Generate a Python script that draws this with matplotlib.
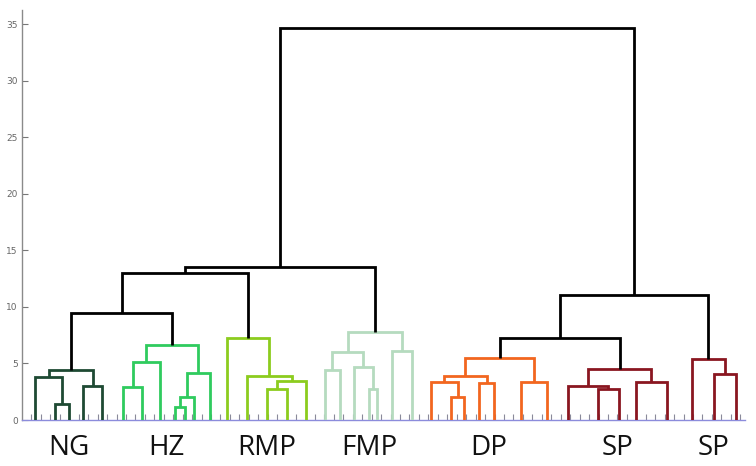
import matplotlib
matplotlib.use("Agg")
import matplotlib.pyplot as plt
from matplotlib.transforms import blended_transform_factory

# ---------------- data ----------------
# leaf positions along the x axis (leaf-tick units) and the group of each leaf
leaf_pos = [1.4, 3.5, 5.0, 6.5, 8.5,
            10.7, 12.7, 14.6, 16.2, 17.2, 18.2, 19.9,
            21.7, 23.8, 25.9, 28.0, 30.1,
            32.1, 33.6, 35.1, 36.7, 37.6, 39.2, 41.3,
            43.3, 45.4, 46.8, 48.4, 49.9, 52.8, 55.5,
            57.8, 60.9, 63.2, 65.0, 68.2,
            70.9, 73.2, 75.5]
leaf_group = ["NG"] * 5 + ["HZ"] * 7 + ["RMP"] * 5 + ["FMP"] * 7 + ["DP"] * 7 + ["SP1"] * 5 + ["SP2"] * 3

# linkage: (child a, child b, height); ids >= len(leaf_pos) refer to earlier merges
merge_a = [1, 0, 3, 40,
           5, 43, 8, 45, 46, 44,
           14, 49, 13, 12,
           20, 19, 17, 55, 22, 56,
           25, 24, 27, 60, 29, 62,
           32, 31, 34, 66,
           37, 36,
           42, 71, 72, 64, 74, 73]
merge_b = [2, 39, 4, 41,
           6, 7, 9, 10, 11, 47,
           15, 16, 50, 51,
           21, 53, 18, 54, 23, 57,
           26, 59, 28, 61, 30, 63,
           33, 65, 35, 67,
           38, 69,
           48, 52, 58, 68, 70, 75]
merge_h = [1.39, 3.83, 3.00, 4.42,
           2.95, 5.16, 1.12, 2.06, 4.13, 6.63,
           2.71, 3.48, 3.89, 7.22,
           2.71, 4.72, 4.42, 6.04, 6.13, 7.81,
           2.06, 3.39, 3.24, 3.89, 3.39, 5.45,
           2.71, 3.00, 3.39, 4.48,
           4.07, 5.36,
           9.49, 12.97, 13.56, 7.22, 11.05, 34.66]
merge_group = (["NG"] * 4 + ["HZ"] * 6 + ["RMP"] * 4 + ["FMP"] * 6 + ["DP"] * 6
               + ["SP1"] * 4 + ["SP2"] * 2 + ["top"] * 6)

groups = ["NG", "HZ", "RMP", "FMP", "DP", "SP1", "SP2"]
group_labels = ["NG", "HZ", "RMP", "FMP", "DP", "SP", "SP"]
yticks = [0, 5, 10, 15, 20, 25, 30, 35]

# ---------------- style ----------------
colors = {"NG": "#1e4a33", "HZ": "#2fcb5e", "RMP": "#8ccc1e", "FMP": "#b5dbbf",
          "DP": "#f2661f", "SP1": "#8a1620", "SP2": "#8a1620", "top": "#000000"}

fig = plt.figure(figsize=(7.56, 4.66), dpi=100)
ax = fig.add_axes([22 / 756, 46 / 466, 723 / 756, 410 / 466])

n = len(leaf_pos)
node_x = list(leaf_pos)
node_y = [0.0] * n
for a, b, h, g in zip(merge_a, merge_b, merge_h, merge_group):
    xa, ya = node_x[a], node_y[a]
    xb, yb = node_x[b], node_y[b]
    ax.plot([xa, xa, xb, xb], [ya, h, h, yb], color=colors[g], lw=2.0,
            solid_joinstyle="miter", solid_capstyle="butt", zorder=3)
    node_x.append((xa + xb) / 2)
    node_y.append(h)

ax.set_xlim(0, 76.5)
ax.set_ylim(0, 36.25)
ax.set_xticks(range(1, 77))
ax.set_xticklabels([])
ax.set_yticks(yticks)
ax.set_yticklabels([str(v) for v in yticks], fontsize=6.5, color="#666666")
ax.tick_params(axis="y", direction="in", length=4, width=0.8, color="#777777", pad=3)
ax.tick_params(axis="x", direction="in", length=4, width=0.8, color="#8a8a9a")
for s in ("top", "right"):
    ax.spines[s].set_visible(False)
ax.spines["left"].set_color("#8a8a8a")
ax.spines["left"].set_linewidth(1.0)
ax.spines["bottom"].set_color("#8c8cdc")
ax.spines["bottom"].set_linewidth(1.0)

trans = blended_transform_factory(ax.transData, ax.transAxes)
for g, lab in zip(groups, group_labels):
    xs = [p for p, gg in zip(leaf_pos, leaf_group) if gg == g]
    cx = (min(xs) + max(xs)) / 2
    ax.text(cx, -0.0854, lab, transform=trans, ha="center", va="baseline",
            fontsize=20, family=["Open Sans", "DejaVu Sans"], color="#111111")

fig.savefig("out.png", dpi=100)
